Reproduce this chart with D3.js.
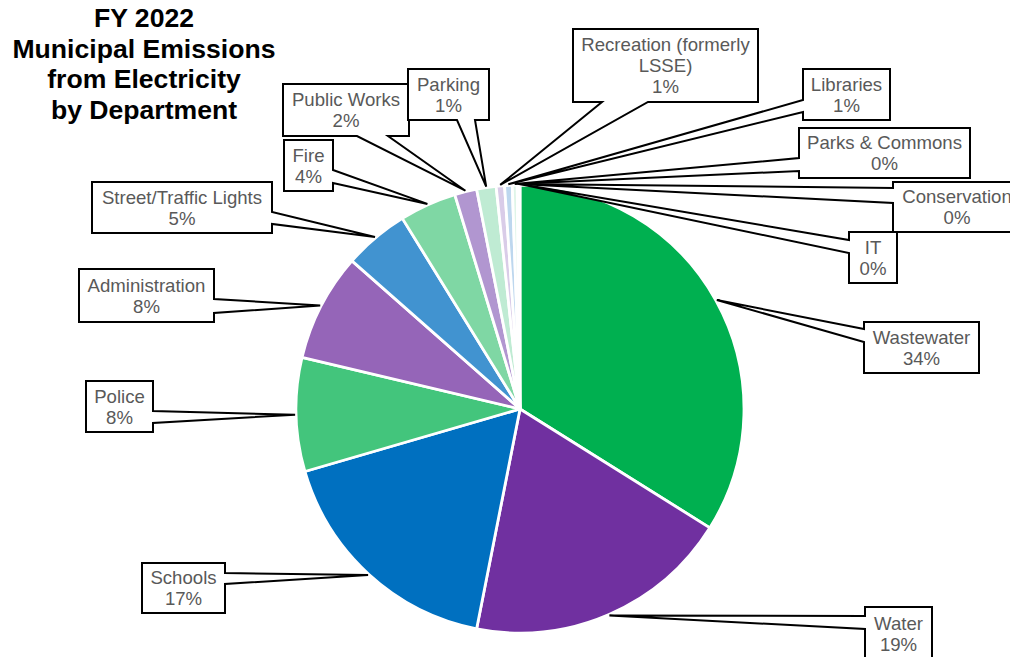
<!DOCTYPE html>
<html>
<head>
<meta charset="utf-8">
<script src="https://cdn.jsdelivr.net/npm/d3@7"></script>
<style>
  html, body { margin: 0; padding: 0; background: #fff; }
  svg { display: block; }
</style>
</head>
<body>
<svg id="chart" width="1010" height="657"></svg>
<script>
// FY 2022 municipal electricity emissions, share by department (percent)
const departments = [
  "Wastewater", "Water", "Schools", "Police", "Administration",
  "Street/Traffic Lights", "Fire", "Public Works", "Parking",
  "Recreation (formerly LSSE)", "Libraries", "Parks & Commons",
  "Conservation", "IT"
];
const emissionsShare = [33.9, 19.2, 17.4, 8.2, 7.8, 4.7, 4.1, 1.6, 1.4, 0.6, 0.55, 0.35, 0.15, 0.05];
const sliceColors = [
  "#00B050", "#7030A0", "#0070C0", "#43C57C", "#9565B8",
  "#4193D0", "#7FD7A4", "#B196D0", "#BFEBD3", "#D9CCE8",
  "#BDD7EE", "#DFF5E8", "#ECE5F3", "#DEEBF7"
];
const titleLines = ["FY 2022", "Municipal Emissions", "from Electricity", "by Department"];

// Callout boxes: [x0, y0, x1, y1], the side the pointer leaves from, and the pointer base span on that side
const calloutLayout = {
  "Wastewater":                 { box: [864, 322, 979, 373], side: "left",   base: [329, 342] },
  "Water":                      { box: [865, 607, 932, 660], side: "left",   base: [616, 629] },
  "Schools":                    { box: [142, 563, 225, 613], side: "right",  base: [573, 584] },
  "Police":                     { box: [86, 381, 153, 432],  side: "right",  base: [411, 423] },
  "Administration":             { box: [79, 269, 214, 322],  side: "right",  base: [299, 313] },
  "Street/Traffic Lights":      { box: [92, 182, 272, 233],  side: "right",  base: [212, 224] },
  "Fire":                       { box: [284, 140, 333, 191], side: "right",  base: [170, 183] },
  "Public Works":               { box: [283, 84, 409, 136],  side: "bottom", base: [357, 388] },
  "Parking":                    { box: [408, 69, 489, 120],  side: "bottom", base: [457, 475] },
  "Recreation (formerly LSSE)": { box: [573, 29, 758, 102],  side: "bottom", base: [602, 648] },
  "Libraries":                  { box: [803, 69, 890, 120],  side: "left",   base: [100, 112] },
  "Parks & Commons":            { box: [799, 128, 970, 178], side: "left",   base: [158, 171] },
  "Conservation":               { box: [893, 182, 1021, 232], side: "left",  base: [188, 203] },
  "IT":                         { box: [849, 232, 897, 283], side: "left",   base: [240, 253] }
};

const svg = d3.select("#chart");
const cx = 520, cy = 409, radius = 224;
const FONT = "'Liberation Sans', Arial, Helvetica, sans-serif";
const LABEL_SIZE = 18.6;

const data = departments.map((name, i) => ({ name, value: emissionsShare[i], color: sliceColors[i] }));
const total = d3.sum(emissionsShare);

const pie = d3.pie().sort(null).value(d => d.value).startAngle(0).endAngle(2 * Math.PI);
const arcs = pie(data);
const arc = d3.arc().innerRadius(0).outerRadius(radius);
const tipArc = d3.arc().innerRadius(radius + 1).outerRadius(radius + 1);

// Pie slices
const g = svg.append("g").attr("transform", `translate(${cx},${cy})`);
g.selectAll("path.slice")
  .data(arcs)
  .join("path")
  .attr("class", "slice")
  .attr("d", arc)
  .attr("fill", d => d.data.color)
  .attr("stroke", "#fff")
  .attr("stroke-width", 2.8)
  .attr("stroke-linejoin", "round");

// Title
svg.append("text")
  .attr("x", 144)
  .attr("font-family", FONT)
  .attr("font-weight", "bold")
  .attr("font-size", 26.6)
  .attr("text-anchor", "middle")
  .attr("fill", "#000")
  .selectAll("tspan")
  .data(titleLines)
  .join("tspan")
  .attr("x", 144)
  .attr("y", (d, i) => 27 + i * 30.7)
  .text(d => d);

// Wedge callout outline: rectangle with a triangular pointer inserted on one side
function calloutPath(b, side, base, tip) {
  const [x0, y0, x1, y1] = b;
  const pts = [[x0, y0]];
  if (side === "top") pts.push([base[0], y0], tip, [base[1], y0]);
  pts.push([x1, y0]);
  if (side === "right") pts.push([x1, base[0]], tip, [x1, base[1]]);
  pts.push([x1, y1]);
  if (side === "bottom") pts.push([base[1], y1], tip, [base[0], y1]);
  pts.push([x0, y1]);
  if (side === "left") pts.push([x0, base[1]], tip, [x0, base[0]]);
  return "M" + pts.map(p => p[0].toFixed(1) + "," + p[1].toFixed(1)).join("L") + "Z";
}

const measure = svg.append("text")
  .attr("font-family", FONT).attr("font-size", LABEL_SIZE)
  .attr("visibility", "hidden");
function textWidth(s) { measure.text(s); return measure.node().getComputedTextLength(); }
function wrapWords(s, maxW) {
  const words = s.split(" ");
  const lines = [];
  let cur = "";
  words.forEach(w => {
    const t = cur ? cur + " " + w : w;
    if (cur && textWidth(t) > maxW) { lines.push(cur); cur = w; }
    else cur = t;
  });
  if (cur) lines.push(cur);
  return lines;
}

const callouts = svg.append("g").attr("class", "callouts");
arcs.forEach(d => {
  const lay = calloutLayout[d.data.name];
  const c = tipArc.centroid(d);
  const tip = [cx + c[0], cy + c[1]];
  const [x0, y0, x1, y1] = lay.box;
  const grp = callouts.append("g");
  grp.append("path")
    .attr("d", calloutPath(lay.box, lay.side, lay.base, tip))
    .attr("fill", "#fff")
    .attr("stroke", "#000")
    .attr("stroke-width", 2)
    .attr("stroke-linejoin", "miter");
  const pct = Math.round(d.data.value / total * 100) + "%";
  const lines = wrapWords(d.data.name, (x1 - x0) - 8).concat([pct]);
  const mx = (x0 + x1) / 2, my = (y0 + y1) / 2;
  const n = lines.length;
  grp.append("text")
    .attr("font-family", FONT)
    .attr("font-size", LABEL_SIZE)
    .attr("fill", "#595959")
    .attr("text-anchor", "middle")
    .selectAll("tspan")
    .data(lines)
    .join("tspan")
    .attr("x", mx)
    .attr("y", (t, i) => my + (i - (n - 1) / 2) * 21 + 6.5)
    .text(t => t);
});
measure.remove();
</script>
</body>
</html>
